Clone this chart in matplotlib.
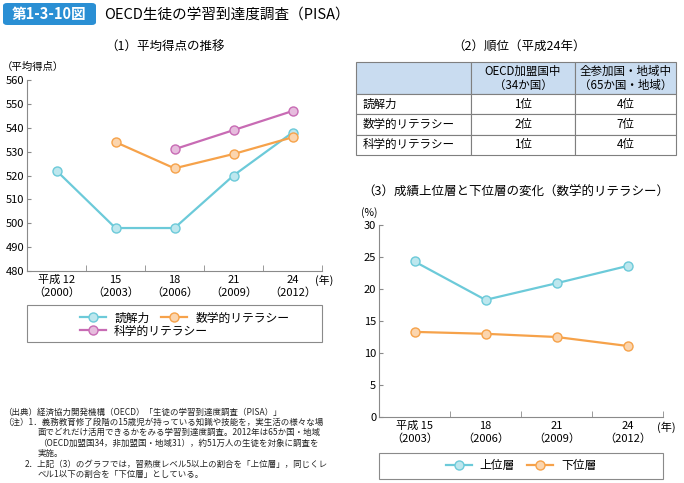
import matplotlib
matplotlib.use("Agg")
import matplotlib.pyplot as plt
from matplotlib.patches import FancyBboxPatch, Rectangle
import numpy as np

plt.rcParams['font.family'] = ['Noto Sans CJK JP', 'DejaVu Sans']

# (1) average scores
years_1 = ["平成 12\n（2000）", "15\n（2003）", "18\n（2006）", "21\n（2009）", "24\n（2012）"]
reading = [522, 498, 498, 520, 538]
math_lit = [np.nan, 534, 523, 529, 536]
science = [np.nan, np.nan, 531, 539, 547]

# (2) ranking table (H24)
table_header = ["", "OECD加盟国中\n（34か国）", "全参加国・地域中\n（65か国・地域）"]
table_rows = [["読解力", "1位", "4位"],
              ["数学的リテラシー", "2位", "7位"],
              ["科学的リテラシー", "1位", "4位"]]

# (3) top / bottom level share (math)
years_3 = ["平成 15\n（2003）", "18\n（2006）", "21\n（2009）", "24\n（2012）"]
upper = [24.3, 18.3, 20.9, 23.6]
lower = [13.3, 13.0, 12.5, 11.1]

C_BLUE = "#6ccad9"
C_ORANGE = "#f6a24a"
C_PURPLE = "#c86bb4"
C_AXIS = "#8a8a8a"

W, H = 684, 483


def fx(px):
    return px / W


def fy(py):
    return 1 - py / H


def lighten(c, f=0.55):
    rgb = np.array(matplotlib.colors.to_rgb(c))
    return tuple(rgb + (1 - rgb) * f)


def draw_series(ax, x, y, color, label):
    ax.plot(x, y, color=color, lw=1.6, marker="o", ms=6.5,
            mfc=lighten(color), mec=color, mew=1.0, label=label, zorder=3)


def style_axes(ax, n):
    for s in ["top", "right"]:
        ax.spines[s].set_visible(False)
    for s in ["left", "bottom"]:
        ax.spines[s].set_color(C_AXIS)
        ax.spines[s].set_linewidth(0.8)
    ax.set_xlim(-0.5, n - 0.5)
    ax.set_xticks(np.arange(n))
    ax.set_xticks(np.arange(n) + 0.5, minor=True)
    ax.tick_params(axis="x", which="major", length=0, pad=3, labelsize=8)
    ax.tick_params(axis="x", which="minor", length=4, direction="in", color=C_AXIS)
    ax.tick_params(axis="y", length=3, direction="in", color=C_AXIS, labelsize=8, pad=2)


fig = plt.figure(figsize=(6.84, 4.83), dpi=100)

# header
fig.patches.append(FancyBboxPatch((fx(3), fy(25)), fx(93), 22 / H,
                                  boxstyle="round,pad=0,rounding_size=0.006",
                                  transform=fig.transFigure, fc="#2a8fd4", ec="none"))
fig.text(fx(49.5), fy(14.5), "第1-3-10図", color="white", fontsize=10.5, fontweight="bold",
         ha="center", va="center")
fig.text(fx(104), fy(14.5), "OECD生徒の学習到達度調査（PISA）", fontsize=10.5,
         ha="left", va="center")

# (1)
fig.text(fx(165), fy(47), "（1）平均得点の推移", fontsize=9, ha="center", va="center")
ax1 = fig.add_axes([fx(27), fy(271), fx(295), 191 / H])
x1 = np.arange(len(years_1))
draw_series(ax1, x1, reading, C_BLUE, "読解力")
draw_series(ax1, x1, math_lit, C_ORANGE, "数学的リテラシー")
draw_series(ax1, x1, science, C_PURPLE, "科学的リテラシー")
style_axes(ax1, len(years_1))
ax1.set_ylim(480, 560)
ax1.set_yticks(np.arange(480, 561, 10))
ax1.set_xticklabels(years_1)
fig.text(fx(2), fy(67), "（平均得点）", fontsize=7.5, ha="left", va="center")
fig.text(fx(315), fy(280), "(年)", fontsize=7.8, ha="left", va="center")

fig.patches.append(Rectangle((fx(27), fy(342)), fx(295), 37 / H, transform=fig.transFigure,
                             fc="none", ec=C_AXIS, lw=0.8))
h1, l1 = ax1.get_legend_handles_labels()
leg_kw = dict(frameon=False, fontsize=8.5, handlelength=2.2, handletextpad=0.7, borderpad=0)
fig.legend(h1[:2], l1[:2], loc="center left", bbox_to_anchor=(fx(74), fy(318)),
           ncol=2, columnspacing=1.0, **leg_kw)
fig.legend(h1[2:], l1[2:], loc="center left", bbox_to_anchor=(fx(74), fy(331)), **leg_kw)

# (2) table
fig.text(fx(519), fy(46), "（2）順位（平成24年）", fontsize=9, ha="center", va="center")
axt = fig.add_axes([fx(356), fy(155), fx(320), 93 / H])
axt.axis("off")
cells = [table_header] + table_rows
colw = [115 / 320, 104 / 320, 101 / 320]
tbl = axt.table(cellText=cells, colWidths=colw, bbox=[0, 0, 1, 1], cellLoc="center")
tbl.auto_set_font_size(False)
for (r, c), cell in tbl.get_celld().items():
    cell.set_edgecolor("#7f7f7f")
    cell.set_linewidth(0.8)
    cell.get_text().set_fontsize(8.3)
    if r == 0:
        cell.set_facecolor("#c9dcf0")
        cell.set_height(32)
        cell.get_text().set_linespacing(1.1)
    else:
        cell.set_facecolor("white")
        cell.set_height(20.5)
    if c == 0 and r > 0:
        cell.get_text().set_ha("left")
        cell.PAD = 0.06

# (3)
fig.text(fx(516), fy(192), "（3）成績上位層と下位層の変化（数学的リテラシー）", fontsize=9,
         ha="center", va="center")
ax3 = fig.add_axes([fx(379), fy(417), fx(284), 192 / H])
x3 = np.arange(len(years_3))
draw_series(ax3, x3, upper, C_BLUE, "上位層")
draw_series(ax3, x3, lower, C_ORANGE, "下位層")
style_axes(ax3, len(years_3))
ax3.set_ylim(0, 30)
ax3.set_yticks(np.arange(0, 31, 5))
ax3.set_xticklabels(years_3)
fig.text(fx(361), fy(213), "(%)", fontsize=7.5, ha="left", va="center")
fig.text(fx(657), fy(427), "(年)", fontsize=8, ha="left", va="center")

fig.patches.append(Rectangle((fx(379), fy(479)), fx(284), 26 / H, transform=fig.transFigure,
                             fc="none", ec=C_AXIS, lw=0.8))
h3, l3 = ax3.get_legend_handles_labels()
fig.legend(h3, l3, loc="center", bbox_to_anchor=(fx(521), fy(466)), ncol=2, frameon=False,
           fontsize=8.5, handlelength=2.2, columnspacing=1.0, handletextpad=0.7, borderpad=0)

# notes
notes = [(3, "（出典）経済協力開発機構（OECD）「生徒の学習到達度調査（PISA）」"),
         (3, "（注）1．義務教育修了段階の15歳児が持っている知識や技能を，実生活の様々な場"),
         (38, "面でどれだけ活用できるかをみる学習到達度調査。2012年は65か国・地域"),
         (38, "（OECD加盟国34，非加盟国・地域31），約51万人の生徒を対象に調査を"),
         (38, "実施。"),
         (25, "2．上記（3）のグラフでは，習熟度レベル5以上の割合を「上位層」，同じくレ"),
         (38, "ベル1以下の割合を「下位層」としている。")]
for i, (xp, line) in enumerate(notes):
    fig.text(fx(xp), fy(412 + i * 10.4), line, fontsize=6.1, ha="left", va="center",
             color="#222222")

fig.savefig("out.png", dpi=100)
